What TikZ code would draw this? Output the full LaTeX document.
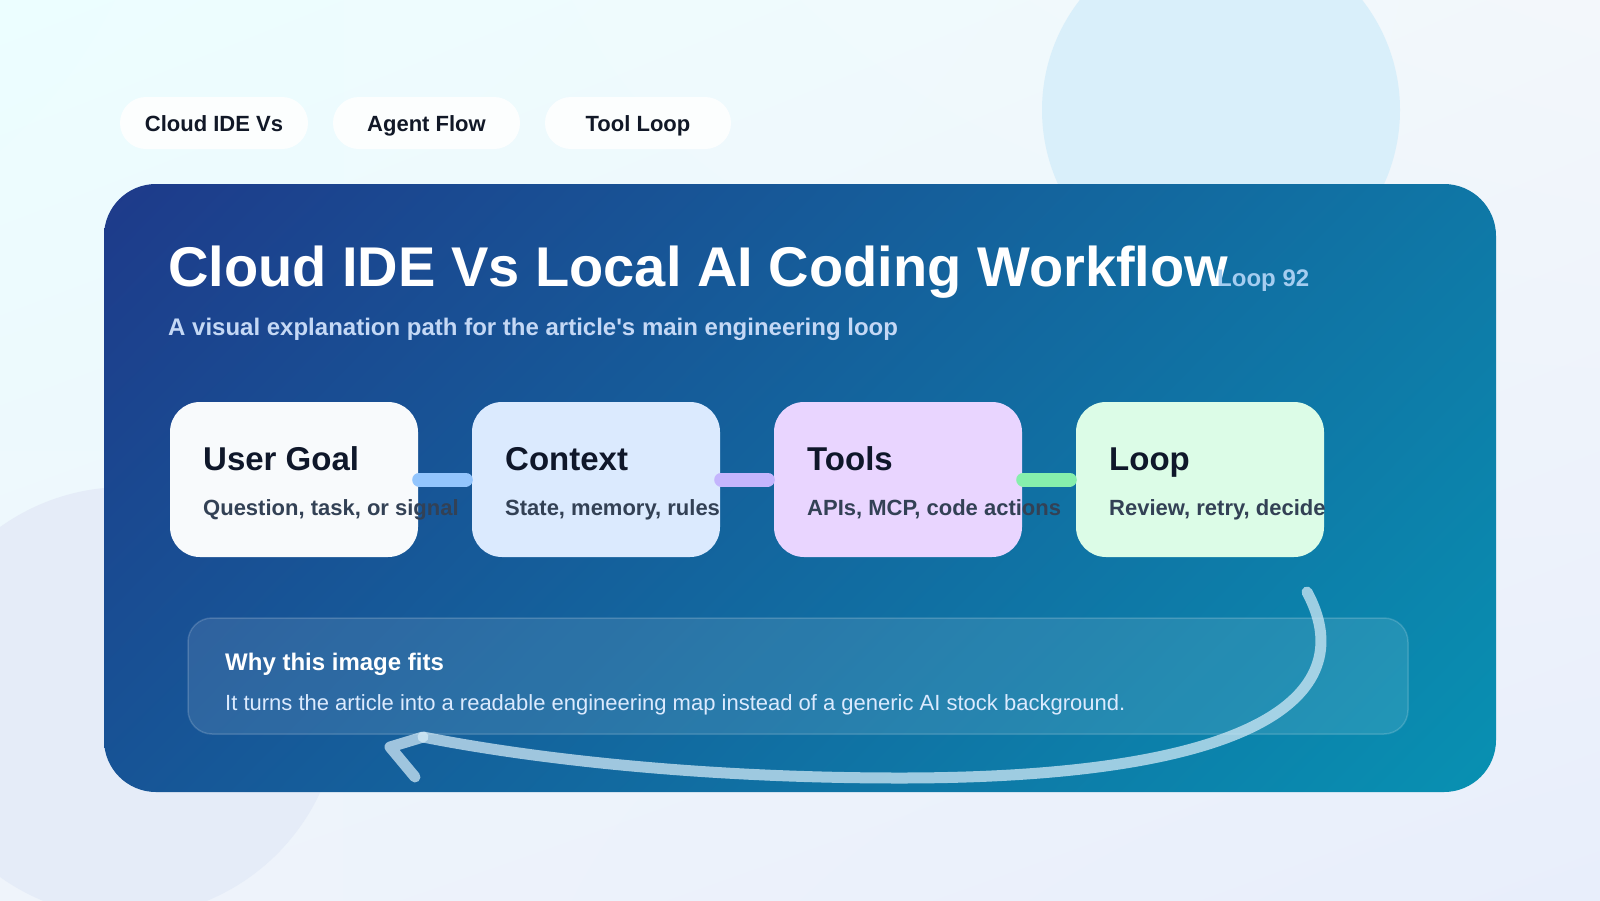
\documentclass[tikz,border=0pt]{standalone}
\usepackage{fontspec}
\setmainfont{Liberation Sans}[Ligatures=TeXOff]
\usetikzlibrary{shadings}
\definecolor{bgUL}{HTML}{ECFEFF}
\definecolor{bgUR}{HTML}{F3F7FB}
\definecolor{bgLL}{HTML}{EFF4FB}
\definecolor{bgLR}{HTML}{E8EEFB}
\definecolor{circA}{HTML}{D9EFFA}
\definecolor{circB}{HTML}{E5ECF8}
\definecolor{pnUL}{HTML}{1E3A8A}
\definecolor{pnUR}{HTML}{0F77A6}
\definecolor{pnLL}{HTML}{175496}
\definecolor{pnLR}{HTML}{0891B2}
\definecolor{pilltext}{HTML}{111827}
\definecolor{cardtitle}{HTML}{0F172A}
\definecolor{cardsub}{HTML}{334155}
\definecolor{cardA}{HTML}{F8FAFC}
\definecolor{cardB}{HTML}{DBEAFE}
\definecolor{cardC}{HTML}{E9D5FF}
\definecolor{cardD}{HTML}{DCFCE7}
\definecolor{connA}{HTML}{93C5FD}
\definecolor{connB}{HTML}{C4B5FD}
\definecolor{connC}{HTML}{86EFAC}
\definecolor{subtl}{HTML}{C4D8F5}
\definecolor{tagc}{HTML}{A5CDF0}
\definecolor{infotext}{HTML}{DBEAFE}
\definecolor{loopc}{HTML}{D6ECF8}
\tikzset{
  pill/.style={rounded corners=26pt, fill=white, fill opacity=0.85, text opacity=1,
    minimum height=52pt, inner sep=0pt, text height=16pt, text depth=0pt,
    font=\fontsize{22}{26}\selectfont\bfseries, text=pilltext},
  card/.style={rounded corners=30pt, minimum width=248pt, minimum height=155pt, inner sep=0pt},
  ctitle/.style={anchor=base west, inner sep=0pt, font=\fontsize{33}{38}\selectfont\bfseries, text=cardtitle},
  csub/.style={anchor=base west, inner sep=0pt, font=\fontsize{22}{26}\selectfont\bfseries, text=cardsub},
  conn/.style={line width=14pt, line cap=round},
  infobox/.style={rounded corners=24pt, fill=white, fill opacity=0.1, draw=white, draw opacity=0.16,
    line width=1.5pt, minimum width=1220pt, minimum height=116pt, inner sep=0pt},
  loopline/.style={draw=loopc, draw opacity=0.72, line width=11pt, line cap=round, line join=round},
}
\begin{document}
\begin{tikzpicture}[x=1pt,y=-1pt]
\useasboundingbox (0,0) rectangle (1600,900);
% background
\shade[upper left=bgUL, upper right=bgUR, lower left=bgLL, lower right=bgLR] (0,0) rectangle (1600,900);
\fill[circA] (1221,110) circle (179);
\fill[circB] (125,702) circle (215);
% pills
\node[pill, minimum width=188pt] (p1) at (214,123) {Cloud IDE Vs};
\node[pill, minimum width=187pt] (p2) at (426.5,123) {Agent Flow};
\node[pill, minimum width=186pt] (p3) at (638,123) {Tool Loop};
% panel
\shade[rounded corners=52pt, upper left=pnUL, upper right=pnUR, lower left=pnLL, lower right=pnLR]
  (104,184) rectangle (1496,792);
% title
\node[anchor=base west, inner sep=0pt, text=white, font=\fontsize{56}{62}\selectfont\bfseries] (title) at (168,286) {Cloud IDE Vs Local AI Coding Workflow};
\node[anchor=base west, inner sep=0pt, text=tagc, font=\fontsize{24}{28}\selectfont\bfseries] (tag) at (1217,286) {Loop 92};
\node[anchor=base west, inner sep=0pt, text=subtl, font=\fontsize{24}{28}\selectfont\bfseries] (subtitle) at (168,335) {A visual explanation path for the article's main engineering loop};
% cards
\node[card, fill=cardA] (c1) at (294,479.5) {};
\node[card, fill=cardB] (c2) at (596,479.5) {};
\node[card, fill=cardC] (c3) at (898,479.5) {};
\node[card, fill=cardD] (c4) at (1200,479.5) {};
% connectors
\draw[conn, connA] ([xshift=1pt]c1.east) -- ([xshift=-6pt]c2.west);
\draw[conn, connB] ([xshift=1pt]c2.east) -- ([xshift=-6pt]c3.west);
\draw[conn, connC] ([xshift=1pt]c3.east) -- ([xshift=-6pt]c4.west);
% card texts
\node[ctitle] (t1) at (203,470) {User Goal};
\node[csub] (s1) at (203,515) {Question, task, or signal};
\node[ctitle] (t2) at (505,470) {Context};
\node[csub] (s2) at (505,515) {State, memory, rules};
\node[ctitle] (t3) at (807,470) {Tools};
\node[csub] (s3) at (807,515) {APIs, MCP, code actions};
\node[ctitle] (t4) at (1109,470) {Loop};
\node[csub] (s4) at (1109,515) {Review, retry, decide};
% info box
\node[infobox] (info) at (798,676) {};
\node[anchor=base west, inner sep=0pt, text=white, font=\fontsize{24}{28}\selectfont\bfseries] (why) at (225,670) {Why this image fits};
\node[anchor=base west, inner sep=0pt, text=infotext, font=\fontsize{22}{26}\selectfont] (whytext) at (225,710) {It turns the article into a readable engineering map instead of a generic AI stock background.};
% loop arrow
\coordinate (ls) at (1307,592);
\coordinate (lm) at (900,778);
\coordinate (le) at (423,737);
\coordinate (ha) at (390,747);
\coordinate (hb) at (415,777);
\draw[loopline] (ls) .. controls (1360,690) and (1270,778) .. (lm) .. controls (720,778) and (550,762) .. (le);
\draw[loopline] (le) -- (ha) -- (hb);
\end{tikzpicture}
\end{document}
